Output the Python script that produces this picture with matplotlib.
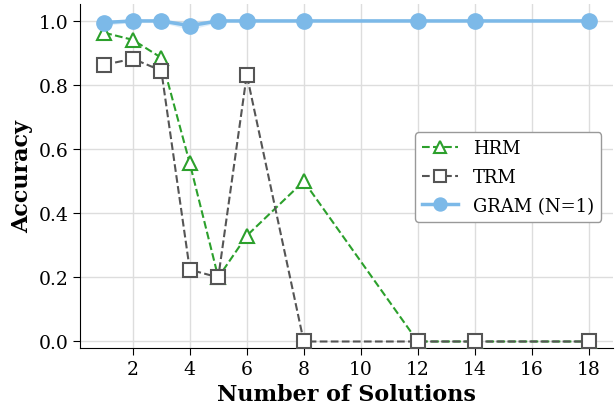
import numpy as np
import matplotlib
matplotlib.use("Agg")
import matplotlib.pyplot as plt

plt.rcParams["font.family"] = "DejaVu Serif"

n_solutions = np.array([1, 2, 3, 4, 5, 6, 8, 12, 14, 18])
hrm_acc = np.array([0.963, 0.941, 0.885, 0.556, 0.200, 0.330, 0.500, 0.0, 0.0, 0.0])
trm_acc = np.array([0.863, 0.882, 0.845, 0.224, 0.200, 0.832, 0.0, 0.0, 0.0, 0.0])
gram_acc = np.array([0.995, 1.0, 1.0, 0.985, 1.0, 1.0, 1.0, 1.0, 1.0, 1.0])
gram_std = np.array([0.008, 0.005, 0.005, 0.012, 0.005, 0.005, 0.005, 0.005, 0.005, 0.005])

fig = plt.figure(figsize=(6.16, 4.10), dpi=100)
ax = fig.add_axes([0.13, 0.149, 0.865, 0.839])

ax.plot(n_solutions, hrm_acc, linestyle="--", color="#2ca02c", marker="^",
        markersize=10, markerfacecolor="white", markeredgewidth=1.5,
        linewidth=1.5, label="HRM", zorder=3)
ax.plot(n_solutions, trm_acc, linestyle="--", color="#555555", marker="s",
        markersize=10, markerfacecolor="white", markeredgewidth=1.5,
        linewidth=1.5, label="TRM", zorder=3)
ax.fill_between(n_solutions, gram_acc - gram_std, np.minimum(gram_acc + gram_std, 1.01),
                color="#7cb9e8", alpha=0.25, linewidth=0, zorder=2)
ax.plot(n_solutions, gram_acc, linestyle="-", color="#7cb9e8", marker="o",
        markersize=11, linewidth=2.5, label="GRAM (N=1)", zorder=4)

ax.set_xlim(0.15, 18.85)
ax.set_ylim(-0.02, 1.053)
ax.set_xticks([2, 4, 6, 8, 10, 12, 14, 16, 18])
ax.set_yticks([0.0, 0.2, 0.4, 0.6, 0.8, 1.0])
ax.tick_params(labelsize=13.5, length=5)
ax.grid(True, color="#dddddd", linewidth=1)
ax.set_axisbelow(True)
for s in ["top", "right"]:
    ax.spines[s].set_visible(False)

ax.set_xlabel("Number of Solutions", fontsize=16, fontweight="bold")
ax.set_ylabel("Accuracy", fontsize=16, fontweight="bold")

ax.legend(loc="center right", bbox_to_anchor=(0.995, 0.497), fontsize=13,
          frameon=True, edgecolor="#999999", framealpha=1, markerscale=0.85,
          labelspacing=0.6)

fig.savefig("out.png", dpi=100)
